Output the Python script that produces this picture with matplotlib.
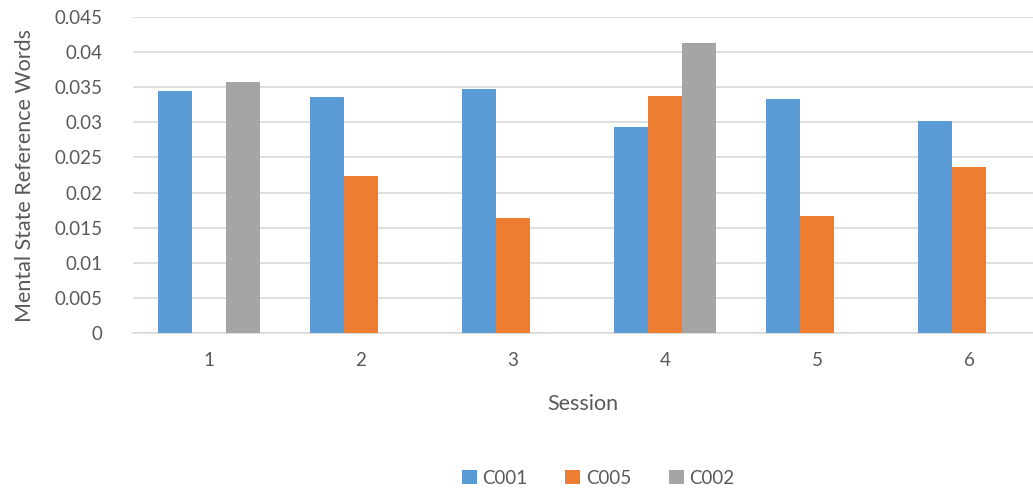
import numpy as np
import matplotlib
matplotlib.use('Agg')
import matplotlib.pyplot as plt

sessions = ['1', '2', '3', '4', '5', '6']
c001 = [0.0344, 0.0336, 0.0347, 0.0293, 0.0333, 0.0302]
c005 = [np.nan, 0.0223, 0.0164, 0.0338, 0.0167, 0.0236]
c002 = [0.0357, np.nan, np.nan, 0.0413, np.nan, np.nan]

series = [('C001', c001, '#5B9BD5'), ('C005', c005, '#ED7D31'), ('C002', c002, '#A5A5A5')]
text_color = '#595959'

plt.rcParams['font.family'] = ['Lato', 'DejaVu Sans']

fig = plt.figure(figsize=(10.33, 4.88), dpi=100)
ax = fig.add_axes([133 / 1033, (488 - 333) / 488, 900 / 1033, (333 - 17) / 488])

x = np.arange(1, len(sessions) + 1)
w = 0.224
for i, (name, vals, col) in enumerate(series):
    ax.bar(x + (i - 1) * w, vals, width=w, color=col, label=name, zorder=3)

ax.set_xlim(0.5, 0.5 + 900 / 152)
ax.set_ylim(0, 0.045)
yt = np.arange(0, 0.0451, 0.005)
ax.set_yticks(yt)
ax.set_yticklabels(['0'] + ['%g' % round(v, 3) for v in yt[1:]])
ax.set_xticks(x)
ax.set_xticklabels(sessions)
ax.grid(axis='y', color='#D9D9D9', linewidth=1.2, zorder=0)
for s in ['top', 'right', 'left']:
    ax.spines[s].set_visible(False)
ax.spines['bottom'].set_color('#D9D9D9')
ax.spines['bottom'].set_linewidth(1.2)
ax.tick_params(axis='both', length=0, labelsize=13.5, labelcolor=text_color)
ax.tick_params(axis='y', pad=22)
ax.tick_params(axis='x', pad=14)

ax.set_xlabel('Session', fontsize=15.5, color=text_color, labelpad=18)
ax.set_ylabel('Mental State Reference Words', fontsize=15.5, color=text_color, labelpad=14)

fig.legend(loc='center', bbox_to_anchor=(598 / 1033, 1 - 478 / 488), ncol=3, frameon=False,
           fontsize=13.5, labelcolor=text_color, handlelength=0.8, handleheight=0.8,
           handletextpad=0.3, columnspacing=2.0)

fig.savefig('out.png', dpi=100)
